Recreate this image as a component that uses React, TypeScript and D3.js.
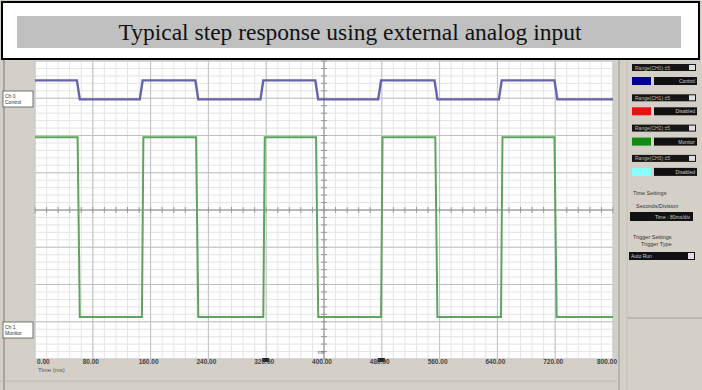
import { useEffect, useRef } from 'react'
import * as d3 from 'd3'

const TITLE='Typical step response using external analog input'
const TIME_TICKS=[0,80,160,240,320,400,480,560,640,720,800]
const MARKER_T=[320,480]
// Ch 0 control (blue), volts/div units
const CONTROL_T=[0,58,62,145,149,222,226,312,316,388,392,475,479,553,557,642,646,719,723,800]
const CONTROL_V=[3.48,3.48,2.97,2.97,3.48,3.48,2.97,2.97,3.48,3.48,2.97,2.97,3.48,3.48,2.97,2.97,3.48,3.48,2.97,2.97]
// Ch 1 monitor (green)
const MONITOR_T=[0,59,62,148,150,223,226,316,318,389,392,479,481,554,557,645,647,719,722,800]
const MONITOR_V=[1.95,1.95,-2.87,-2.87,1.95,1.95,-2.87,-2.87,1.95,1.95,-2.87,-2.87,1.95,1.95,-2.87,-2.87,1.95,1.95,-2.87,-2.87]
const CH_COLORS=['#000090','#e81010','#108a10','#88ffff']
const CH_MODES=['Control','Disabled','Monitor','Disabled']

export default function App() {
  const ref=useRef<SVGSVGElement>(null)
  useEffect(() => {
    document.body.style.margin='0'
    const svg=d3.select(ref.current); svg.selectAll('*').remove()
    const W=702,H=390
    const x=d3.scaleLinear().domain([0,800]).range([35,613])
    const y=d3.scaleLinear().domain([-4,4]).range([359,61])
    const sans='Liberation Sans, Arial, sans-serif'
    svg.append('rect').attr('width',W).attr('height',H).attr('fill','#d4d0c8')
    // left strip
    svg.append('line').attr('x1',4).attr('x2',4).attr('y1',60).attr('y2',390).attr('stroke','#a8a49c').attr('stroke-width',2)
    // plot
    const g=svg.append('g')
    g.append('rect').attr('x',x(0)).attr('y',y(4)).attr('width',x(800)-x(0)).attr('height',y(-4)-y(4)).attr('fill','#fff')
    const minX=d3.range(0,51).map(i=>i*16), minY=d3.range(0,41).map(i=>-4+i*0.2)
    g.selectAll('.vmin').data(minX).join('line').attr('x1',d=>x(d)).attr('x2',d=>x(d)).attr('y1',y(4)).attr('y2',y(-4)).attr('stroke','#e4e4e4')
    g.selectAll('.hmin').data(minY).join('line').attr('x1',x(0)).attr('x2',x(800)).attr('y1',d=>y(d)).attr('y2',d=>y(d)).attr('stroke','#e4e4e4')
    g.selectAll('.vmaj').data(TIME_TICKS).join('line').attr('x1',d=>x(d)).attr('x2',d=>x(d)).attr('y1',y(4)).attr('y2',y(-4)).attr('stroke','#c0c0c0')
    g.selectAll('.hmaj').data(d3.range(-4,5)).join('line').attr('x1',x(0)).attr('x2',x(800)).attr('y1',d=>y(d)).attr('y2',d=>y(d)).attr('stroke','#c0c0c0')
    // centre axes with ticks
    g.append('line').attr('x1',x(400)).attr('x2',x(400)).attr('y1',y(4)).attr('y2',y(-4)).attr('stroke','#999')
    g.append('line').attr('x1',x(0)).attr('x2',x(800)).attr('y1',y(0)).attr('y2',y(0)).attr('stroke','#999')
    g.selectAll('.tx').data(minX).join('line').attr('x1',d=>x(d)).attr('x2',d=>x(d)).attr('y1',y(0)-3).attr('y2',y(0)+3).attr('stroke','#999')
    g.selectAll('.ty').data(minY).join('line').attr('x1',x(400)-3).attr('x2',x(400)+3).attr('y1',d=>y(d)).attr('y2',d=>y(d)).attr('stroke','#999')
    // traces
    const ctl=d3.line<number>().x((_,i)=>x(CONTROL_T[i])).y(d=>y(d))
    const mon=d3.line<number>().x((_,i)=>x(MONITOR_T[i])).y(d=>y(d))
    g.append('path').attr('d',mon(MONITOR_V)).attr('fill','none').attr('stroke','#5ea45e').attr('stroke-width',2)
    g.append('path').attr('d',ctl(CONTROL_V)).attr('fill','none').attr('stroke','#6464aa').attr('stroke-width',2.4)
    // time labels
    const fmt=d3.format('.2f')
    svg.selectAll('.mk').data(MARKER_T).join('rect').attr('x',d=>x(d)-4).attr('y',358).attr('width',7).attr('height',4).attr('fill','#222')
    svg.selectAll('.tl').data(TIME_TICKS).join('text')
      .attr('x',(d,i)=>i===0?x(d)+2:i===TIME_TICKS.length-1?x(d)+4:x(d)-2).attr('y',364)
      .attr('text-anchor',(d,i)=>i===0?'start':i===TIME_TICKS.length-1?'end':'middle')
      .attr('font-family',sans).attr('font-size',6.5).attr('font-weight','bold').attr('fill','#444').text(d=>fmt(d))
    svg.append('text').attr('x',38).attr('y',372).attr('font-family',sans).attr('font-size',6).attr('fill','#555').text('Time (ms)')
    svg.append('text').attr('x',x(400)-3).attr('y',354).attr('text-anchor','middle').attr('font-family',sans).attr('font-size',5).attr('fill','#555').text('ms')
    svg.append('line').attr('x1',0).attr('x2',617).attr('y1',381).attr('y2',381).attr('stroke','#bcb8b0')
    // channel tags
    const tag=(ty:number,a:string,b:string)=>{
      svg.append('rect').attr('x',3).attr('y',ty).attr('width',30).attr('height',16).attr('fill','#fff').attr('stroke','#555').attr('stroke-width',0.8)
      svg.append('text').attr('x',5).attr('y',ty+7).attr('font-family',sans).attr('font-size',5).attr('fill','#333').text(a)
      svg.append('text').attr('x',5).attr('y',ty+13).attr('font-family',sans).attr('font-size',5).attr('fill','#333').text(b)
    }
    tag(91,'Ch 0','Control'); tag(322,'Ch 1','Monitor')
    // right panel
    svg.append('line').attr('x1',619).attr('x2',619).attr('y1',60).attr('y2',390).attr('stroke','#b8b4ac').attr('stroke-width',2)
    svg.append('line').attr('x1',627).attr('x2',627).attr('y1',60).attr('y2',390).attr('stroke','#c4c0b8')
    svg.append('line').attr('x1',627).attr('x2',702).attr('y1',318).attr('y2',318).attr('stroke','#bcb8b0').attr('stroke-width',2)
    CH_COLORS.forEach((c,i)=>{
      const by=64+30.3*i
      svg.append('rect').attr('x',632).attr('y',by).attr('width',64).attr('height',7).attr('fill','#161616')
      svg.append('rect').attr('x',689).attr('y',by+1).attr('width',6).attr('height',5).attr('fill','#e0e0e0')
      svg.append('text').attr('x',635).attr('y',by+5.5).attr('font-family',sans).attr('font-size',5).attr('fill','#bbb').text(`Range(CH${i})  ±5`)
      svg.append('rect').attr('x',632).attr('y',by+13).attr('width',19).attr('height',8).attr('fill',c)
      svg.append('rect').attr('x',654).attr('y',by+13).attr('width',43).attr('height',8).attr('fill','#111')
      svg.append('text').attr('x',695).attr('y',by+19).attr('text-anchor','end').attr('font-family',sans).attr('font-size',5).attr('fill','#ccc').text(CH_MODES[i])
    })
    const lab=(tx:number,ty:number,t:string)=>svg.append('text').attr('x',tx).attr('y',ty).attr('font-family',sans).attr('font-size',5.5).attr('fill','#333').text(t)
    lab(633,195,'Time Settings'); lab(636,208,'Seconds/Division')
    svg.append('rect').attr('x',630).attr('y',212).attr('width',63).attr('height',9).attr('fill','#111')
    svg.append('text').attr('x',690).attr('y',219).attr('text-anchor','end').attr('font-family',sans).attr('font-size',5).attr('fill','#ccc').text('Time : 80ms/div')
    lab(633,239,'Trigger Settings'); lab(641,246,'Trigger Type')
    svg.append('rect').attr('x',629).attr('y',252).attr('width',66).attr('height',8).attr('fill','#111')
    svg.append('rect').attr('x',688).attr('y',253).attr('width',6).attr('height',6).attr('fill','#e0e0e0')
    svg.append('text').attr('x',631).attr('y',258).attr('font-family',sans).attr('font-size',5).attr('fill','#ccc').text('Auto Run')
    // title box
    svg.append('rect').attr('x',2).attr('y',2).attr('width',697).attr('height',57).attr('fill','#fff').attr('stroke','#000').attr('stroke-width',2)
    svg.append('rect').attr('x',17).attr('y',16).attr('width',664).attr('height',32).attr('fill','#c0c0c0')
    svg.append('text').attr('x',350).attr('y',40).attr('text-anchor','middle').attr('font-family','Liberation Serif, Times New Roman, serif').attr('font-size',23.5).attr('fill','#111').text(TITLE)
  },[])
  return <svg ref={ref} width={702} height={390} style={{ display:'block' }} />
}
